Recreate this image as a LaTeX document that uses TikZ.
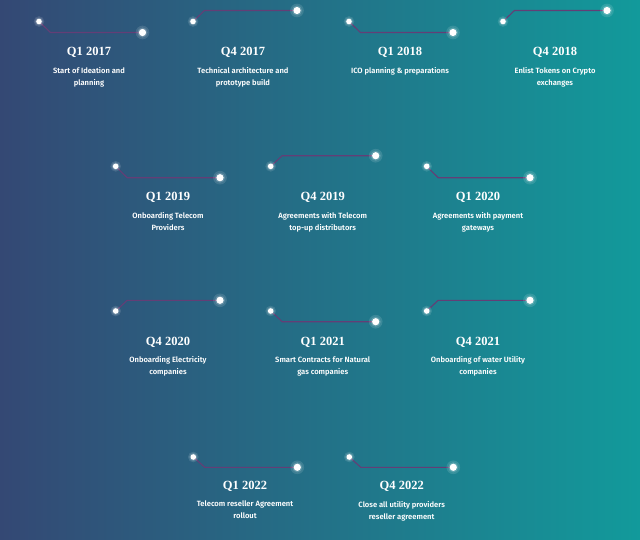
\documentclass[tikz,border=0pt]{standalone}
\usepackage{fontspec}
\setmainfont{Fira Sans}
\newfontfamily\descfont{Fira Sans SemiBold}
\newfontfamily\titlefont{Liberation Serif}
\usetikzlibrary{calc}
\definecolor{bgL}{RGB}{52,72,116}
\definecolor{bgR}{RGB}{18,154,155}
\definecolor{linec}{RGB}{100,62,118}
\tikzset{
  x=1pt, y=-1pt,
  conn/.style={draw=linec, line width=1.1pt},
  ttl/.style={font=\titlefont\bfseries\fontsize{12.5}{12.5}\selectfont, text=white, inner sep=0pt},
  desc/.style={font=\descfont\fontsize{7.6}{12}\selectfont, text=white, align=center, inner sep=0pt, anchor=north},
}
\newcommand{\glowdot}[3]{%
  \fill[white, opacity=0.12] (#1) circle (#3*1.9);
  \fill[white, opacity=0.18] (#1) circle (#3*1.4);
  \node[circle, fill=white, inner sep=0pt, minimum size=#3*2] (#2) at (#1) {};
}
% #1 name, #2 left x, #3 left y, #4 bend y, #5 right x, #6 title x, #7 title y, #8 text
\newcommand{\milestone}[8]{%
  \coordinate (#1b) at (#2+11.5,#4);
  \coordinate (#1rc) at (#5,#4);
  \draw[conn] (#2,#3) -- (#1b) -- (#1rc);
  \glowdot{#2,#3}{#1l}{2.8pt}
  \glowdot{#5,#4}{#1r}{3.6pt}
  \node[ttl] (#1t) at (#6,#7) {#8};
}
\begin{document}
\begin{tikzpicture}
\shade[left color=bgL, right color=bgR] (0,0) rectangle (640,539);
\useasboundingbox (0,0) rectangle (640,539);

% Row 1
\milestone{a}{39}{21.5}{32.5}{142.5}{89}{52}{Q1 2017}
\node[desc] (ad) at (89,67) {Start of Ideation and\\planning};
\milestone{b}{193}{21.5}{10.5}{297}{243}{52}{Q4 2017}
\node[desc] (bd) at (243,67) {Technical architecture and\\prototype build};
\milestone{c}{349}{21.5}{32.5}{453}{400}{52}{Q1 2018}
\node[desc] (cd) at (400,67) {ICO planning \& preparations};
\milestone{d}{503}{21.5}{10.5}{607}{555}{52}{Q4 2018}
\node[desc] (dd) at (555,67) {Enlist Tokens on Crypto\\exchanges};

% Row 2
\milestone{e}{115.7}{166.3}{177.7}{220}{168}{197}{Q1 2019}
\node[desc] (ed) at (168,212.5) {Onboarding Telecom\\Providers};
\milestone{f}{270.7}{166.3}{155.7}{375.7}{322.7}{197}{Q4 2019}
\node[desc] (fd) at (322.7,212.5) {Agreements with Telecom\\top-up distributors};
\milestone{g}{426.7}{166.3}{177.7}{530}{478}{197}{Q1 2020}
\node[desc] (gd) at (478,212.5) {Agreements with payment\\gateways};

% Row 3
\milestone{h}{115.7}{311}{300.3}{220}{168}{342.7}{Q4 2020}
\node[desc] (hd) at (168,356.5) {Onboarding Electricity\\companies};
\milestone{i}{270.7}{311}{321.7}{375.7}{322.7}{342.7}{Q1 2021}
\node[desc] (id) at (322.7,356.5) {Smart Contracts for Natural\\gas companies};
\milestone{j}{426.7}{311}{300.3}{530}{478}{342.7}{Q4 2021}
\node[desc] (jd) at (478,356.5) {Onboarding of water Utility\\companies};

% Row 4
\milestone{k}{193.3}{457}{467.3}{297.3}{245}{486.7}{Q1 2022}
\node[desc] (kd) at (245,501) {Telecom reseller Agreement\\rollout};
\milestone{l}{349.3}{457}{467.3}{453.3}{401.7}{486.7}{Q4 2022}
\node[desc] (ld) at (401.7,501) {Close all utility providers\\reseller agreement};
\end{tikzpicture}
\end{document}
